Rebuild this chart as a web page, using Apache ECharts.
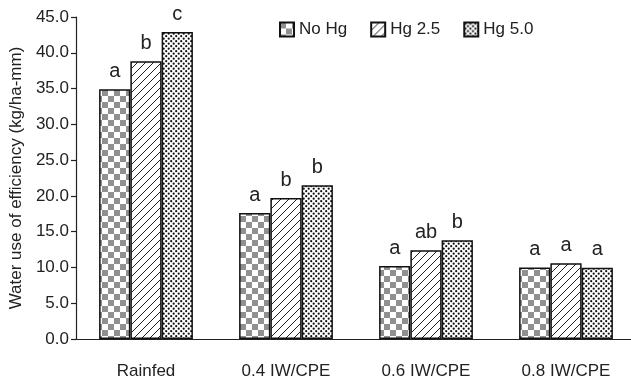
<!DOCTYPE html>
<html><head><meta charset="utf-8">
<script src="https://cdn.jsdelivr.net/npm/echarts@6/dist/echarts.min.js"></script>
<style>html,body{margin:0;padding:0;background:#fff}#c{width:631px;height:383px}</style>
</head><body><div id="c"></div>
<script>
const categories = ['Rainfed', '0.4 IW/CPE', '0.6 IW/CPE', '0.8 IW/CPE'];
const seriesNames = ['No Hg', 'Hg 2.5', 'Hg 5.0'];
const noHg = [34.9, 17.6, 10.2, 10.0];
const hg25 = [38.8, 19.7, 12.4, 10.6];
const hg50 = [42.9, 21.5, 13.8, 9.95];
const lettersNoHg = ['a', 'a', 'a', 'a'];
const lettersHg25 = ['b', 'b', 'ab', 'a'];
const lettersHg50 = ['c', 'b', 'b', 'a'];
const yTicks = [0, 5, 10, 15, 20, 25, 30, 35, 40, 45];

const FONT = '"Liberation Sans", Arial, sans-serif';

function mk(w, h, draw) {
  const c = document.createElement('canvas');
  c.width = w; c.height = h;
  const g = c.getContext('2d');
  g.fillStyle = '#fff'; g.fillRect(0, 0, w, h);
  draw(g);
  return c;
}
const checker = mk(12, 12, g => {
  g.fillStyle = '#909090';
  g.fillRect(0, 0, 6, 6); g.fillRect(6, 6, 6, 6);
});
const diag = mk(8, 8, g => {
  g.strokeStyle = '#222'; g.lineWidth = 1;
  g.beginPath(); g.moveTo(-1, 9); g.lineTo(9, -1); g.stroke();
  g.beginPath(); g.moveTo(-1, 1); g.lineTo(1, -1); g.stroke();
  g.beginPath(); g.moveTo(7, 9); g.lineTo(9, 7); g.stroke();
});
const dots = mk(5, 5, g => {
  g.fillStyle = '#111';
  g.beginPath(); g.arc(1.2, 1.2, 1.1, 0, Math.PI * 2); g.fill();
  g.beginPath(); g.arc(3.7, 3.7, 1.1, 0, Math.PI * 2); g.fill();
});
const patterns = [checker, diag, dots];
const values = [noHg, hg25, hg50];
const letters = [lettersNoHg, lettersHg25, lettersHg50];

const chart = echarts.init(document.getElementById('c'), null, {renderer: 'canvas'});
chart.setOption({
  animation: false,
  backgroundColor: '#fff',
  textStyle: {fontFamily: FONT},
  legend: {
    top: 16, left: 274, itemWidth: 14, itemHeight: 14, itemGap: 23,
    icon: 'rect',
    textStyle: {fontFamily: FONT, fontSize: 17, color: '#222'},
    data: seriesNames
  },
  grid: {left: 76, top: 17, width: 560, height: 322, outerBoundsMode: 'none', containLabel: false},
  xAxis: {
    type: 'category', data: categories,
    axisLine: {lineStyle: {color: '#222', width: 1.2}},
    axisTick: {length: 6, lineStyle: {color: '#222', width: 1.2}},
    axisLabel: {fontFamily: FONT, fontSize: 17, color: '#222', margin: 24}
  },
  yAxis: {
    type: 'value', min: 0, max: 45, interval: 5,
    name: 'Water use of efficiency (kg/ha-mm)', nameLocation: 'middle', nameGap: 49,
    nameTextStyle: {fontFamily: FONT, fontSize: 17, color: '#222'},
    axisLine: {show: true, lineStyle: {color: '#222', width: 1.2}},
    axisTick: {show: true, length: 5, lineStyle: {color: '#222', width: 1.2}},
    splitLine: {show: false},
    axisLabel: {fontFamily: FONT, fontSize: 17, color: '#222', margin: 7,
      formatter: v => yTicks.includes(v) ? v.toFixed(1) : ''}
  },
  series: seriesNames.map((n, i) => ({
    name: n, type: 'bar', barGap: '0%', barCategoryGap: '33%',
    data: values[i],
    itemStyle: {color: {image: patterns[i], repeat: 'repeat'}, borderColor: '#111', borderWidth: 1.5},
    label: {show: true, position: 'top', distance: 8, fontFamily: FONT, fontSize: 20, color: '#222',
      formatter: p => letters[i][p.dataIndex]}
  }))
});
</script></body></html>
